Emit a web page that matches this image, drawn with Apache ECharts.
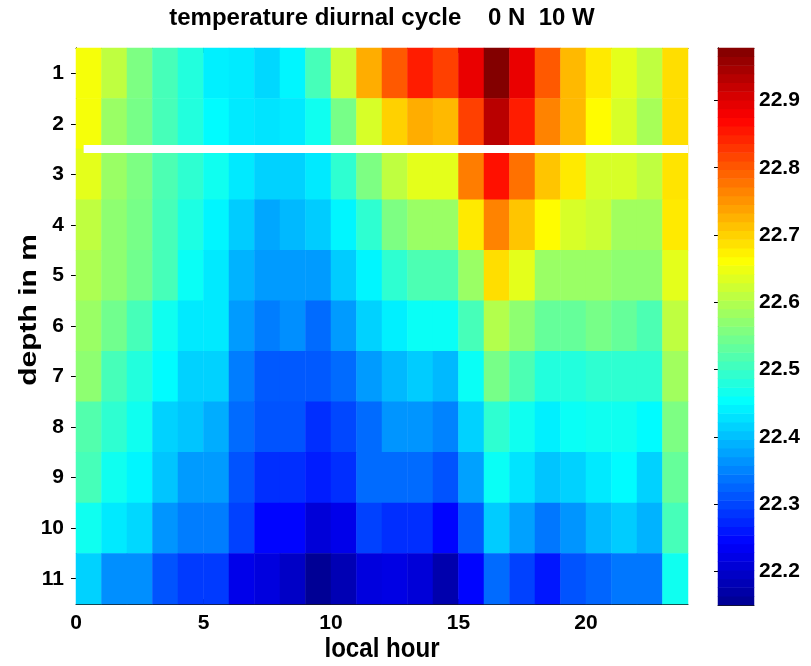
<!DOCTYPE html>
<html>
<head>
<meta charset="utf-8">
<script src="https://cdn.jsdelivr.net/npm/echarts@6/dist/echarts.min.js"></script>
<style>
  html, body { margin: 0; padding: 0; background: #ffffff; }
  #chart { width: 811px; height: 666px; }
</style>
</head>
<body>
<div id="chart"></div>
<script>
// Hourly bins (0..23) and depth levels in metres
const hourBins = [0,1,2,3,4,5,6,7,8,9,10,11,12,13,14,15,16,17,18,19,20,21,22,23];
const depthLevels = [1,2,3,4,5,6,7,8,9,10,11];
const hourTicks = [0,5,10,15,20];

// Mean temperature (deg C) per depth level, one value per local hour
const temp1m  = [22.655,22.61,22.555,22.51,22.48,22.44,22.436,22.42,22.445,22.51,22.62,22.73,22.80,22.85,22.82,22.89,22.975,22.89,22.80,22.72,22.68,22.64,22.61,22.69];
const temp2m  = [22.655,22.58,22.55,22.51,22.48,22.45,22.435,22.43,22.435,22.465,22.55,22.63,22.70,22.73,22.72,22.82,22.93,22.85,22.765,22.72,22.665,22.63,22.59,22.69];
const temp3m  = [22.64,22.58,22.555,22.515,22.49,22.465,22.435,22.415,22.415,22.435,22.49,22.555,22.61,22.64,22.64,22.77,22.86,22.78,22.71,22.68,22.63,22.63,22.61,22.685];
const temp4m  = [22.61,22.57,22.55,22.51,22.475,22.445,22.41,22.38,22.395,22.41,22.445,22.49,22.555,22.58,22.58,22.68,22.765,22.71,22.665,22.63,22.62,22.585,22.585,22.68];
const temp5m  = [22.595,22.57,22.545,22.51,22.46,22.435,22.39,22.37,22.37,22.37,22.41,22.445,22.49,22.515,22.515,22.58,22.69,22.64,22.58,22.58,22.58,22.57,22.57,22.64];
const temp6m  = [22.58,22.545,22.51,22.465,22.435,22.435,22.37,22.345,22.36,22.33,22.37,22.415,22.44,22.46,22.46,22.51,22.60,22.57,22.535,22.535,22.55,22.535,22.515,22.61];
const temp7m  = [22.57,22.51,22.48,22.45,22.415,22.415,22.345,22.315,22.315,22.315,22.33,22.37,22.395,22.41,22.395,22.46,22.55,22.515,22.48,22.48,22.49,22.49,22.49,22.585];
const temp8m  = [22.52,22.49,22.465,22.415,22.405,22.385,22.33,22.31,22.31,22.28,22.30,22.33,22.365,22.365,22.35,22.415,22.49,22.465,22.44,22.46,22.465,22.465,22.45,22.555];
const temp9m  = [22.51,22.465,22.445,22.405,22.37,22.37,22.31,22.28,22.28,22.265,22.28,22.33,22.33,22.33,22.31,22.375,22.46,22.43,22.405,22.415,22.435,22.45,22.415,22.535];
const temp10m = [22.465,22.435,22.42,22.365,22.345,22.345,22.295,22.245,22.245,22.21,22.225,22.295,22.28,22.28,22.245,22.315,22.41,22.375,22.34,22.365,22.395,22.41,22.39,22.51];
const temp11m = [22.415,22.36,22.36,22.31,22.29,22.29,22.225,22.215,22.195,22.155,22.18,22.215,22.22,22.21,22.175,22.245,22.33,22.295,22.26,22.31,22.325,22.34,22.34,22.465];
const tempRows = [temp1m, temp2m, temp3m, temp4m, temp5m, temp6m, temp7m, temp8m, temp9m, temp10m, temp11m];

// Colour scale limits and colourbar tick labels
const colorMin = 22.15;
const colorMax = 22.978;
const colorTicks = [22.2, 22.3, 22.4, 22.5, 22.6, 22.7, 22.8, 22.9];

// Horizontal gap marker between 2 m and 3 m
const gapDepth = 2.5;
const gapHours = [0.3, 24];

// 64-step jet colormap
function jet64() {
  const m = 64, n = 16;
  const u = [];
  for (let i = 1; i <= n; i++) u.push(i / n);
  for (let i = 0; i < n - 1; i++) u.push(1);
  for (let i = n; i >= 1; i--) u.push(i / n);
  const R = new Array(m).fill(0), G = new Array(m).fill(0), B = new Array(m).fill(0);
  for (let k = 1; k <= u.length; k++) {
    const g = 8 + k, r = g + n, b = g - n;
    if (g >= 1 && g <= m) G[g - 1] = u[k - 1];
    if (r >= 1 && r <= m) R[r - 1] = u[k - 1];
    if (b >= 1 && b <= m) B[b - 1] = u[k - 1];
  }
  const hex = v => Math.round(v * 255).toString(16).padStart(2, '0');
  return R.map((_, i) => '#' + hex(R[i]) + hex(G[i]) + hex(B[i]));
}
const jetColors = jet64();

// Heatmap cells
const cells = [];
tempRows.forEach((row, d) => row.forEach((v, h) => cells.push([h, d, v])));

// Colourbar bands
const bandCount = 64;
const bandValues = [];
for (let i = 0; i < bandCount; i++) bandValues.push(colorMin + (i + 0.5) * (colorMax - colorMin) / bandCount);
const bandCells = bandValues.map((v, i) => [0, i, v]);

const font = '"Liberation Sans", Arial, sans-serif';
const tickFont = { fontFamily: font, fontWeight: 'bold', fontSize: 21, color: '#000' };
const frame = { show: true, lineStyle: { color: '#1a1a1a', width: 1 } };
const plotRect = { left: 76, top: 48, width: 612, height: 556 };
const barRect = { left: 718, top: 48, width: 36, height: 557 };

const chart = echarts.init(document.getElementById('chart'), null, { renderer: 'canvas' });
chart.setOption({
  backgroundColor: '#ffffff',
  animation: false,
  graphic: [
    {
      type: 'text', x: 382, y: 18,
      style: {
        text: 'temperature diurnal cycle    0 N  10 W',
        font: 'bold 24px ' + font, fill: '#000',
        textAlign: 'center', textVerticalAlign: 'middle'
      }
    },
    {
      // axis titles use a tall, narrow face
      type: 'text', x: 382, y: 649, scaleX: 0.86,
      style: { text: 'local hour', font: 'bold 28px ' + font, fill: '#000', textAlign: 'center', textVerticalAlign: 'middle' }
    },
    {
      type: 'text', x: 29, y: 310, rotation: Math.PI / 2, scaleY: 0.8,
      style: { text: 'depth in m', font: 'bold 30px ' + font, fill: '#000', textAlign: 'center', textVerticalAlign: 'middle' }
    }
  ],
  grid: [
    Object.assign({ outerBoundsMode: 'none' }, plotRect),
    Object.assign({ outerBoundsMode: 'none' }, plotRect),
    Object.assign({ outerBoundsMode: 'none' }, barRect),
    Object.assign({ outerBoundsMode: 'none' }, barRect)
  ],
  visualMap: {
    type: 'continuous', show: false, min: colorMin, max: colorMax,
    seriesIndex: [0, 2], inRange: { color: jetColors }
  },
  xAxis: [
    { type: 'category', gridIndex: 0, data: hourBins, show: false },
    {
      type: 'value', gridIndex: 1, position: 'bottom', min: 0, max: 24, interval: 5,
      axisLine: frame, splitLine: { show: false },
      axisTick: { inside: true, length: 5, customValues: hourTicks, lineStyle: { color: '#000' } },
      axisLabel: Object.assign({ margin: 9, customValues: hourTicks }, tickFont)
    },
    {
      type: 'value', gridIndex: 1, position: 'top', min: 0, max: 24, interval: 5,
      axisLine: frame, splitLine: { show: false },
      axisTick: { inside: true, length: 5, customValues: hourTicks, lineStyle: { color: '#000' } },
      axisLabel: { show: false }
    },
    { type: 'category', gridIndex: 2, data: ['c'], show: false },
    { type: 'value', gridIndex: 3, position: 'bottom', min: 0, max: 1, axisLine: frame, axisTick: { show: false }, axisLabel: { show: false }, splitLine: { show: false } },
    { type: 'value', gridIndex: 3, position: 'top', min: 0, max: 1, axisLine: frame, axisTick: { show: false }, axisLabel: { show: false }, splitLine: { show: false } }
  ],
  yAxis: [
    { type: 'category', gridIndex: 0, data: depthLevels, inverse: true, show: false },
    {
      type: 'value', gridIndex: 1, position: 'left', min: 0.5, max: 11.5, inverse: true,
      axisLine: frame, splitLine: { show: false },
      axisTick: { inside: true, length: 5, customValues: depthLevels, lineStyle: { color: '#000' } },
      axisLabel: Object.assign({ margin: 12, customValues: depthLevels }, tickFont)
    },
    {
      type: 'value', gridIndex: 1, position: 'right', min: 0.5, max: 11.5, inverse: true,
      axisLine: frame, splitLine: { show: false },
      axisTick: { inside: true, length: 5, customValues: depthLevels, lineStyle: { color: '#000' } },
      axisLabel: { show: false }
    },
    { type: 'category', gridIndex: 2, data: bandValues.map((_, i) => i), show: false },
    {
      type: 'value', gridIndex: 3, position: 'left', min: colorMin, max: colorMax,
      axisLine: frame, splitLine: { show: false },
      axisTick: { inside: true, length: 4, customValues: colorTicks, lineStyle: { color: '#000' } },
      axisLabel: { show: false }
    },
    {
      type: 'value', gridIndex: 3, position: 'right', min: colorMin, max: colorMax,
      axisLine: frame, splitLine: { show: false },
      axisTick: { inside: true, length: 4, customValues: colorTicks, lineStyle: { color: '#000' } },
      axisLabel: Object.assign({ margin: 5, customValues: colorTicks, formatter: v => v.toFixed(1) }, tickFont)
    }
  ],
  series: [
    {
      type: 'heatmap', xAxisIndex: 0, yAxisIndex: 0, data: cells,
      itemStyle: { borderWidth: 0 }, emphasis: { disabled: true }, progressive: 0
    },
    {
      type: 'line', xAxisIndex: 1, yAxisIndex: 1, z: 5,
      data: gapHours.map(h => [h, gapDepth]),
      symbol: 'none', clip: false,
      lineStyle: { color: '#ffffff', width: 8 }
    },
    {
      type: 'heatmap', xAxisIndex: 3, yAxisIndex: 3, data: bandCells,
      itemStyle: { borderWidth: 0 }, emphasis: { disabled: true }
    }
  ]
});
</script>
</body>
</html>
